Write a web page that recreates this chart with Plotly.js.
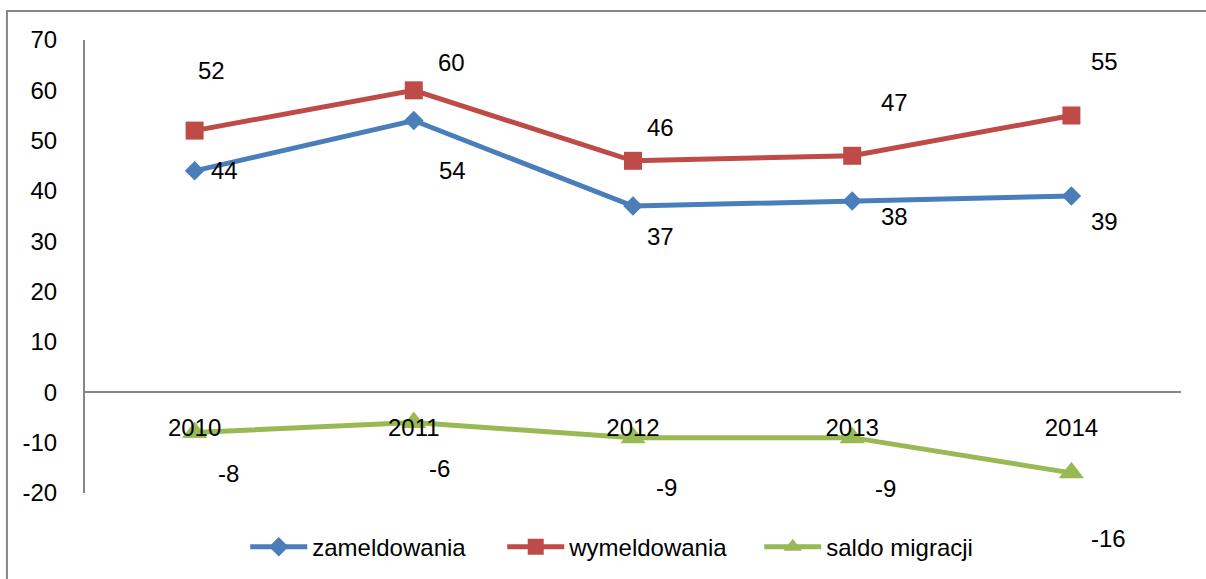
<!DOCTYPE html>
<html>
<head>
<meta charset="utf-8">
<script src="https://cdn.plot.ly/plotly-3.0.1.min.js"></script>
<style>
html,body{margin:0;padding:0;background:#fff;}
#chart{width:1206px;height:579px;}
</style>
</head>
<body>
<div id="chart"></div>
<script>
const years = ['2010', '2011', '2012', '2013', '2014'];
const zameldowania = [44, 54, 37, 38, 39];
const wymeldowania = [52, 60, 46, 47, 55];
const saldoMigracji = [-8, -6, -9, -9, -16];
const seriesNames = ['zameldowania', 'wymeldowania', 'saldo migracji'];
const yTicks = [-20, -10, 0, 10, 20, 30, 40, 50, 60, 70];

// label offsets (pixels) for data labels, per series
const offZ = [[30, 0], [39, -50], [27, -30], [42, -15], [33, -25]];
const offW = [[17, 60], [38, 28], [27, 33], [42, 53], [33, 54]];
const offS = [[34, -41], [26, -46], [33, -50], [33, -51], [37, -66]];

const FONT = 'Liberation Sans, Arial, sans-serif';
const FS = 24;
const colors = ['#4A7EBB', '#BE4B48', '#98B954'];

const traces = [
  {x: years, y: zameldowania, name: seriesNames[0], mode: 'lines+markers',
   line: {color: colors[0], width: 5}, marker: {symbol: 'diamond', size: 15, color: colors[0]}},
  {x: years, y: wymeldowania, name: seriesNames[1], mode: 'lines+markers',
   line: {color: colors[1], width: 5}, marker: {symbol: 'square', size: 18, color: colors[1]}},
  {x: years, y: saldoMigracji, name: seriesNames[2], mode: 'lines+markers',
   line: {color: colors[2], width: 5}, marker: {symbol: 'triangle-up', size: 22, color: colors[2]}}
];

const annotations = [];
function addLabels(vals, offs) {
  vals.forEach((v, i) => {
    annotations.push({x: i, y: v, xref: 'x', yref: 'y', text: String(v), showarrow: false,
      xshift: offs[i][0], yshift: offs[i][1], font: {family: FONT, size: FS, color: '#000'}});
  });
}
addLabels(zameldowania, offZ);
addLabels(wymeldowania, offW);
addLabels(saldoMigracji, offS);

const layout = {
  width: 1206, height: 579,
  margin: {l: 85, r: 25, t: 40, b: 86},
  paper_bgcolor: '#fff', plot_bgcolor: '#fff',
  font: {family: FONT, size: FS, color: '#000'},
  showlegend: true,
  legend: {orientation: 'h', xref: 'container', yref: 'container', x: 0.523, y: 0.055,
    xanchor: 'center', yanchor: 'middle', itemwidth: 57, entrywidth: 185,
    font: {family: FONT, size: FS, color: '#000'}, bgcolor: 'rgba(0,0,0,0)'},
  xaxis: {type: 'category', range: [-0.5, 4.5], anchor: 'free', position: 20 / 90,
    showline: true, linecolor: '#868686', linewidth: 2, showgrid: false, zeroline: false,
    ticks: '', ticklabelstandoff: 14, tickfont: {family: FONT, size: FS, color: '#000'}, fixedrange: true},
  yaxis: {range: [-20, 70], tickvals: yTicks, ticktext: yTicks.map(String), showline: true,
    linecolor: '#868686', linewidth: 2,
    showgrid: false, zeroline: false, ticks: '', ticklabelstandoff: 21,
    tickfont: {family: FONT, size: FS, color: '#000'}, fixedrange: true},
  annotations: annotations,
  shapes: [{type: 'rect', xref: 'paper', yref: 'paper', x0: -0.0712, x1: 1.06, y0: -0.3, y1: 1.064,
    line: {color: '#868686', width: 2}, fillcolor: 'rgba(0,0,0,0)', layer: 'below'}]
};

Plotly.newPlot('chart', traces, layout, {displayModeBar: false, staticPlot: true});
</script>
</body>
</html>
